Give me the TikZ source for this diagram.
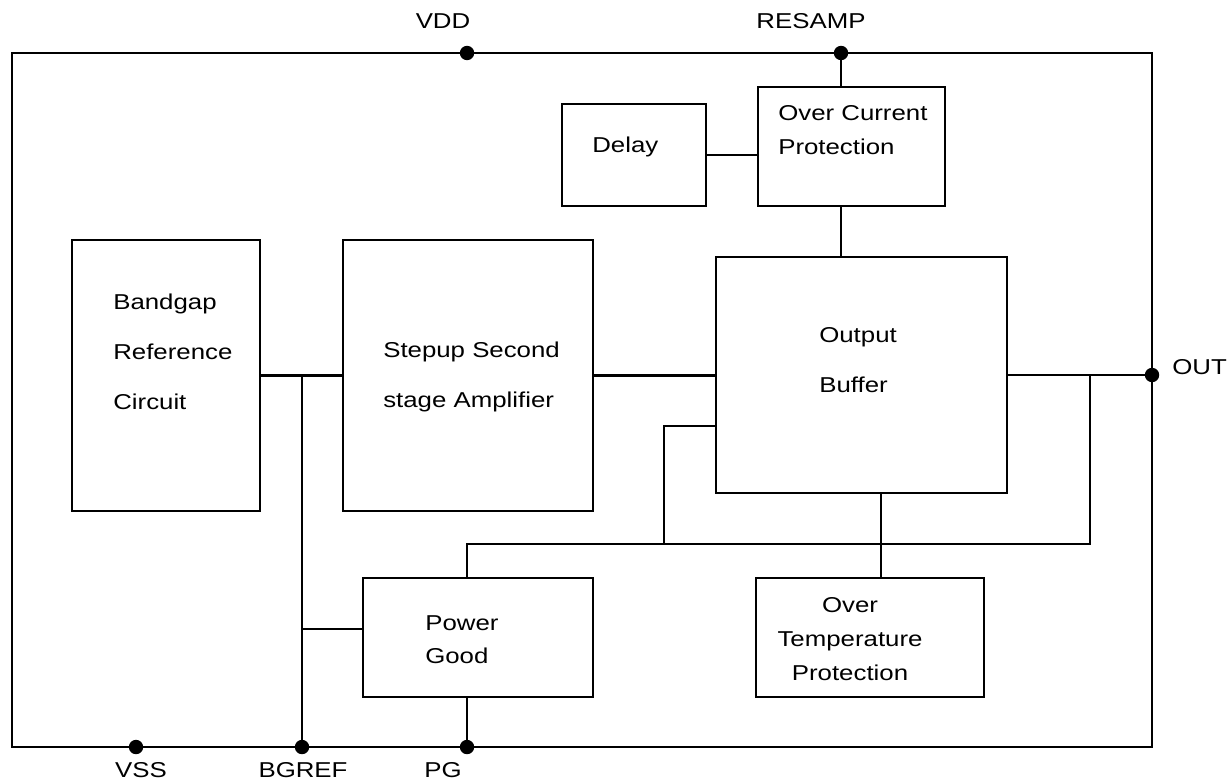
\documentclass[tikz,border=0pt]{standalone}
\usepackage{fontspec}
\setmainfont{Liberation Sans}[FakeStretch=1.2]
\usetikzlibrary{fit}
\tikzset{
  block/.style={draw,line width=2.1pt,inner sep=0pt},
  wire/.style={line width=2.1pt},
  dot/.style={circle,fill,inner sep=0pt,minimum size=0.36cm},
  blocktext/.style={inner sep=0pt,anchor=west,align=left,
    font=\fontsize{15.3}{35.6}\selectfont},
  tighttext/.style={blocktext,font=\fontsize{15.3}{24.6}\selectfont},
  pinlabel/.style={inner sep=0pt,font=\fontsize{15.3}{18}\selectfont}
}
\begin{document}
\begin{tikzpicture}[x=0.025cm,y=-0.025cm]
  \useasboundingbox (0,0) rectangle (1227,782);
  % chip outline
  \draw[wire] (12,53) rectangle (1152,747);
  % blocks
  \node[block,fit={(562,104) (706,206)}] (delay) {};
  \node[block,fit={(758,87) (945,206)}] (ocp) {};
  \node[block,fit={(72,240) (260,511)}] (bg) {};
  \node[block,fit={(343,240) (593,511)}] (su) {};
  \node[block,fit={(716,257) (1007,493)}] (ob) {};
  \node[block,fit={(363,578) (593,697)}] (pgood) {};
  \node[block,fit={(756,578) (984,697)}] (ot) {};
  % block texts
  \node[blocktext] (delaytxt) at (592,147) {Delay};
  \node[tighttext] (ocptxt) at (778,130) {Over Current\\Protection};
  \node[blocktext] (bgtxt) at (113,352) {Bandgap\\Reference\\Circuit};
  \node[blocktext] (sutxt) at (383,377) {Stepup Second\\stage Amplifier};
  \node[blocktext] (obtxt) at (819,360) {Output\\Buffer};
  \node[tighttext,font=\fontsize{15.3}{23.5}\selectfont] (pgoodtxt) at (425,640) {Power\\Good};
  \node[tighttext,anchor=center,align=center,font=\fontsize{15.3}{24.2}\selectfont]
    (ottxt) at (850,639) {Over\\Temperature\\Protection};
  % pins
  \node[dot] (vdd) at (467,53) {};
  \node[dot] (resamp) at (841,53) {};
  \node[dot] (out) at (1152,375) {};
  \node[dot] (vss) at (136,747) {};
  \node[dot] (bgref) at (302,747) {};
  \node[dot] (pg) at (467,747) {};
  \node[pinlabel] (vddlbl) at (443,21) {VDD};
  \node[pinlabel] (resamplbl) at (811,21) {RESAMP};
  \node[pinlabel,anchor=west] (outlbl) at (1172,367) {OUT};
  \node[pinlabel] (vsslbl) at (141,770) {VSS};
  \node[pinlabel] (bgreflbl) at (303,770) {BGREF};
  \node[pinlabel] (pglbl) at (443,770) {PG};
  % wiring
  \coordinate (fbtap) at (1090,375);
  \coordinate (fbbus) at (1090,544);
  \coordinate (fbsplit) at (664,544);
  \coordinate (obtap) at (881,493);
  \draw[wire] (resamp) -- (resamp |- ocp.north);
  \draw[wire] (delay.east) -- (ocp.west |- delay.east);
  \draw[wire] (resamp |- ocp.south) -- (resamp |- ob.north);
  \draw[wire] (bg.east) -- (su.west);
  \draw[wire] (bgref) -- (bgref |- bg.east);
  \draw[wire] (bgref |- 0,629) -- (pgood.west |- 0,629);
  \draw[wire] (su.east) -- (ob.west |- su.east);
  \draw[wire] (ob.east |- out) -- (out);
  \draw[wire] (fbtap) -- (fbbus) -| (pg |- pgood.north);
  \draw[wire] (fbsplit) |- (ob.west |- 0,426);
  \draw[wire] (obtap) -- (obtap |- ot.north);
  \draw[wire] (pg |- pgood.south) -- (pg);
\end{tikzpicture}
\end{document}
